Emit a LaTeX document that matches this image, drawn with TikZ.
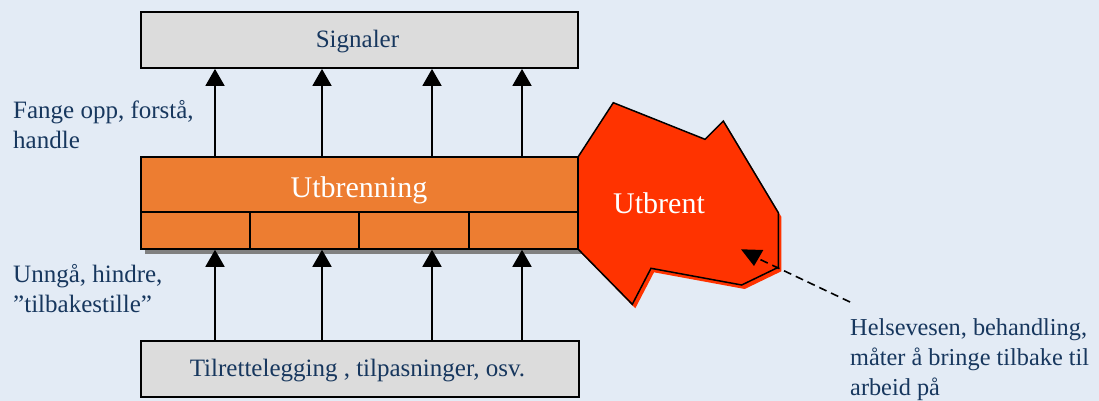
\documentclass[tikz,border=0pt]{standalone}
\usepackage{fontspec}
\setmainfont{Liberation Serif}
\usetikzlibrary{arrows.meta}
\definecolor{bg}{RGB}{227,235,245}
\definecolor{navy}{RGB}{23,55,94}
\definecolor{boxgray}{RGB}{220,220,220}
\definecolor{brick}{RGB}{237,125,49}
\definecolor{fire}{RGB}{255,51,0}
\definecolor{shadowgray}{RGB}{128,128,128}
\begin{document}
\begin{tikzpicture}[x=1pt,y=-1pt,
  graybox/.style={draw=black,line width=1.8pt,fill=boxgray,rectangle,inner sep=0pt},
  brickbox/.style={draw=black,line width=1.6pt,fill=brick,rectangle,inner sep=0pt},
  txt/.style={inner sep=0pt,font=\fontsize{25}{30}\selectfont,text=navy},
  bigtxt/.style={inner sep=0pt,font=\fontsize{30}{36}\selectfont,text=white},
  arr/.style={line width=1.8pt,-{Triangle[width=19pt,length=17pt]}},
  mortar/.style={line width=1.6pt}]
\useasboundingbox[fill=bg] (0,0) rectangle (1099,401);

% top and bottom boxes
\node[graybox,minimum width=437pt,minimum height=56pt] (sig) at (359.5,40) {};
\node[txt,anchor=base] (sigtxt) at (357.5,47.5) {Signaler};
\node[graybox,minimum width=438pt,minimum height=56pt] (tilr) at (360,369) {};
\node[txt,anchor=base] (tilrtxt) at (357.5,376) {Tilrettelegging , tilpasninger, osv.};

% brick wall with its shadow
\fill[shadowgray] (145,162) rectangle (582,254);
\node[brickbox,minimum width=437pt,minimum height=92pt] (utb) at (359.5,203) {};
\draw[mortar] (utb.west |- 0,212) -- (utb.east |- 0,212);
\foreach \xx in {250,359,469}
  \draw[mortar] (\xx,212) -- (\xx,0 |- utb.south);
\node[bigtxt,anchor=base] (utbtxt) at (359,197) {Utbrenning};

% arrows up through the wall
\foreach \xx in {215,322,432,522}{
  \draw[arr] (\xx,0 |- utb.north) -- (\xx,0 |- sig.south);
  \draw[arr] (\xx,0 |- tilr.north) -- (\xx,0 |- utb.south);
}

% burnt-out blob
\fill[fire,shift={(3,4)}] (578,157) -- (613.3,102.7) -- (705,139.3) -- (723.3,121)
  -- (778.3,212.7) -- (778.3,267.3) -- (741.7,285) -- (651,268.3) -- (632.3,304.3)
  -- (578,249) -- cycle;
\filldraw[fill=fire,draw=black,line width=1.5pt,line join=miter]
  (578,157) -- (613.3,102.7) -- (705,139.3) -- (723.3,121)
  -- (778.3,212.7) -- (778.3,267.3) -- (741.7,285) -- (651,268.3) -- (632.3,304.3)
  -- (578,249) -- cycle;
\node[bigtxt,anchor=base] (utbrent) at (659,213) {Utbrent};

% callout to the treatment label
\coordinate (callend) at (850,302);
\coordinate (calltip) at (757,258);
\draw[line width=1.6pt,dash pattern=on 8pt off 5pt] (callend) -- (calltip);
\fill[black] (741,249.3) -- (763.3,250) -- (754,266) -- cycle;

% side labels (base anchor sits on the last line)
\node[txt,anchor=base west,align=left] (fange) at (13,148) {Fange opp, forstå,\\handle};
\node[txt,anchor=base west,align=left] (unnga) at (13,312) {Unngå, hindre,\\”tilbakestille”};
\node[txt,anchor=base west,align=left,font=\fontsize{24.3}{30}\selectfont] (helse) at (850,395.5)
  {Helsevesen, behandling,\\måter å bringe tilbake til\\arbeid på};
\end{tikzpicture}
\end{document}
